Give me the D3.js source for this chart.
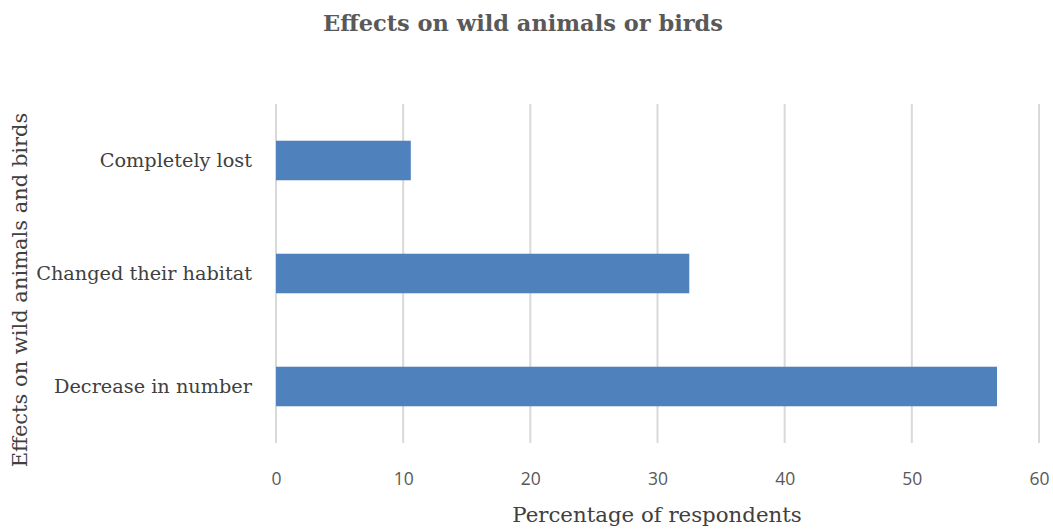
<!DOCTYPE html>
<html>
<head>
<meta charset="utf-8">
<script src="https://cdn.jsdelivr.net/npm/d3@7"></script>
<style>
  html, body { margin: 0; padding: 0; background: #fff; }
  svg { display: block; }
</style>
</head>
<body>
<svg id="chart" width="1053" height="529"></svg>
<script>
// Survey responses: effects observed on wild animals or birds
const categories = ["Completely lost", "Changed their habitat", "Decrease in number"];
const percentages = [10.6, 32.5, 56.7];
const xTicks = [0, 10, 20, 30, 40, 50, 60];

const serif = "'DejaVu Serif', 'Liberation Serif', serif";
const svg = d3.select("#chart");

const x = d3.scaleLinear()
  .domain([0, 60])
  .range([276, 1039]);

const y = d3.scaleBand()
  .domain(categories)
  .range([104, 443])
  .paddingInner(0.65)
  .paddingOuter(0.325);

// vertical gridlines
svg.append("g")
  .selectAll("line")
  .data(xTicks)
  .join("line")
  .attr("x1", d => x(d)).attr("x2", d => x(d))
  .attr("y1", 104).attr("y2", 443)
  .attr("stroke", "#d9d9d9")
  .attr("stroke-width", 2);

// bars
svg.append("g")
  .selectAll("rect")
  .data(categories)
  .join("rect")
  .attr("x", x(0))
  .attr("y", d => y(d))
  .attr("width", (d, i) => x(percentages[i]) - x(0))
  .attr("height", y.bandwidth())
  .attr("fill", "#4f81bd");

// x axis tick labels
const xAxis = d3.axisBottom(x).tickValues(xTicks).tickSize(0).tickPadding(0);
const gx = svg.append("g")
  .attr("transform", "translate(0,485)")
  .call(xAxis);
gx.select(".domain").remove();
gx.selectAll("text")
  .attr("dy", 0)
  .attr("font-family", "'Open Sans', 'Liberation Sans', sans-serif")
  .attr("font-size", 17.5)
  .attr("fill", "#595959");

// y axis category labels
const yAxis = d3.axisLeft(y).tickSize(0).tickPadding(24);
const gy = svg.append("g")
  .attr("transform", `translate(${x(0)},0)`)
  .call(yAxis);
gy.select(".domain").remove();
gy.selectAll("text")
  .attr("font-family", serif)
  .attr("font-size", 19.3)
  .attr("fill", "#404040");

// title
svg.append("text")
  .attr("x", 523).attr("y", 31)
  .attr("text-anchor", "middle")
  .attr("font-family", serif)
  .attr("font-weight", "bold")
  .attr("font-size", 22.5)
  .attr("fill", "#595959")
  .text("Effects on wild animals or birds");

// x axis title
svg.append("text")
  .attr("x", 657).attr("y", 522)
  .attr("text-anchor", "middle")
  .attr("font-family", serif)
  .attr("font-size", 21.3)
  .attr("fill", "#404040")
  .text("Percentage of respondents");

// y axis title
svg.append("text")
  .attr("transform", "translate(27,290) rotate(-90)")
  .attr("text-anchor", "middle")
  .attr("font-family", serif)
  .attr("font-size", 21)
  .attr("fill", "#404040")
  .text("Effects on wild animals and birds");
</script>
</body>
</html>
